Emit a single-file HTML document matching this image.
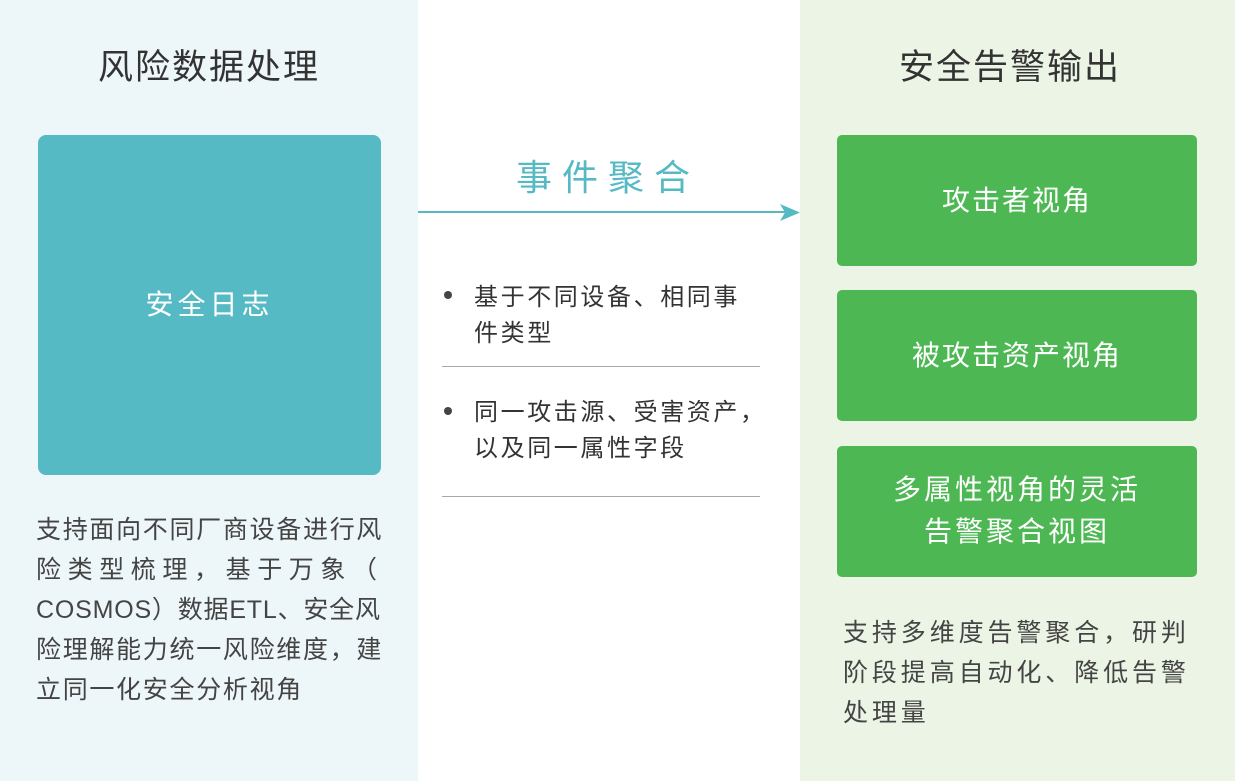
<!DOCTYPE html>
<html><head><meta charset="utf-8"><style>
body{margin:0;width:1235px;height:781px;position:relative;background:#fff;font-family:"Liberation Sans","Noto Sans CJK SC",sans-serif;overflow:hidden}
div{position:absolute}
.t{color:#333;white-space:nowrap}
</style></head><body>
<div style="left:0;top:0;width:418px;height:781px;background:#edf7f9"></div>
<div style="left:800px;top:0;width:435px;height:781px;background:#ecf5e5"></div>
<div class="t" style="left:0;width:418px;top:45px;text-align:center;font-size:35px;letter-spacing:2px;line-height:46px">风险数据处理</div>
<div class="t" style="left:800px;width:420px;top:45px;text-align:center;font-size:35px;letter-spacing:2px;line-height:46px">安全告警输出</div>
<div style="left:38px;top:135px;width:343px;height:340px;background:#55bac4;border-radius:8px;color:#fff;font-size:28px;letter-spacing:4px;text-align:center;line-height:340px">安全日志</div>
<div class="t" style="left:36px;top:510px;font-size:25px;line-height:40px;color:#444;letter-spacing:1.7px">支持面向不同厂商设备进行风<br><span style="letter-spacing:6.6px">险类型梳理，基于万象（</span><br><span style="letter-spacing:0.8px">COSMOS）数据ETL、安全风</span><br>险理解能力统一风险维度，建<br>立同一化安全分析视角</div>
<div style="left:412px;top:153px;width:382px;text-align:center;font-size:36px;color:#55bac4;letter-spacing:10px;line-height:50px;text-indent:10px">事件聚合</div>
<div style="left:418px;top:211px;width:368px;height:2px;background:#55bac4"></div>
<svg style="position:absolute;left:780px;top:204px" width="20" height="17"><polygon points="0,0 20,8.5 0,17 5,8.5" fill="#55bac4"/></svg>
<div style="left:444px;top:291px;width:8px;height:8px;border-radius:50%;background:#444"></div>
<div class="t" style="left:474px;top:280px;font-size:24px;letter-spacing:2.6px;line-height:36px">基于不同设备、相同事<br>件类型</div>
<div style="left:442px;top:366px;width:318px;height:1px;background:#aaa"></div>
<div style="left:444px;top:407px;width:8px;height:8px;border-radius:50%;background:#444"></div>
<div class="t" style="left:474px;top:395px;font-size:24px;letter-spacing:2.6px;line-height:36px">同一攻击源、受害资产，<br>以及同一属性字段</div>
<div style="left:442px;top:496px;width:318px;height:1px;background:#aaa"></div>
<div style="left:837px;top:135px;width:360px;height:131px;background:#4db853;border-radius:5px;color:#fff;font-size:28px;letter-spacing:2px;text-align:center;line-height:131px">攻击者视角</div>
<div style="left:837px;top:290px;width:360px;height:131px;background:#4db853;border-radius:5px;color:#fff;font-size:28px;letter-spacing:2px;text-align:center;line-height:131px">被攻击资产视角</div>
<div style="left:837px;top:446px;width:360px;height:131px;background:#4db853;border-radius:5px;color:#fff;font-size:28px;letter-spacing:3px;text-align:center;line-height:42px;padding-top:23px;box-sizing:border-box">多属性视角的灵活<br>告警聚合视图</div>
<div class="t" style="left:843px;top:613px;font-size:25px;line-height:40px;color:#444;letter-spacing:3.9px">支持多维度告警聚合，研判<br>阶段提高自动化、降低告警<br>处理量</div>
</body></html>
